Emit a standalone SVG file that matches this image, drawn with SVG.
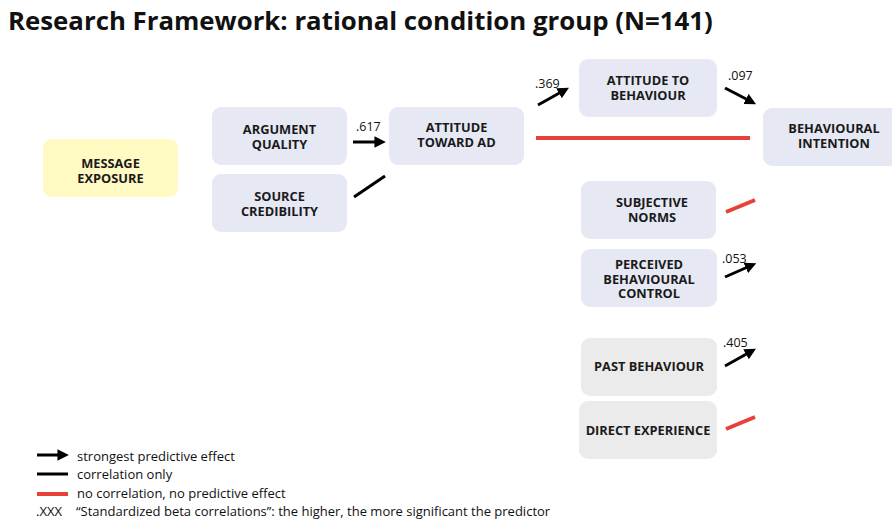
<svg xmlns="http://www.w3.org/2000/svg" width="892" height="520" viewBox="0 0 892 520">
<defs>
<style>
.title{font-family:"Open Sans","Noto Sans",sans-serif;font-weight:700;font-size:25.8px;fill:#111}
.nb{fill:#e6e9f4}
.ny{fill:#fff9c2}
.ng{fill:#ebebeb}
.lbl{font-family:"Open Sans","Noto Sans",sans-serif;font-weight:700;font-size:12.8px;fill:#1a1a1a;text-anchor:middle}
.num{font-family:"Open Sans","Noto Sans",sans-serif;font-size:12.5px;fill:#111}
.leg{font-family:"Open Sans","Noto Sans",sans-serif;font-size:13px;fill:#111}
.blk{stroke:#000;stroke-width:3;fill:none}
.arr{stroke:#000;stroke-width:3;fill:none;marker-end:url(#ah)}
.red{stroke:#e8413a;stroke-width:4;fill:none}
</style>
<marker id="ah" viewBox="0 0 10 10" refX="4" refY="5" markerWidth="3.8" markerHeight="3.8" orient="auto" markerUnits="strokeWidth">
<path d="M0,0 L10,5 L0,10 z" fill="#000"/>
</marker>
</defs>
<rect width="892" height="520" fill="#fff"/>
<text class="title" x="8" y="30">Research Framework: rational condition group (N=141)</text>

<g id="message-exposure"><rect class="ny" x="43" y="139" width="135" height="58" rx="9"/><text class="lbl" x="110.5" y="168">MESSAGE</text><text class="lbl" x="110.5" y="182.5">EXPOSURE</text></g>
<g id="argument-quality"><rect class="nb" x="212" y="107" width="135" height="58" rx="9"/><text class="lbl" x="279.5" y="134">ARGUMENT</text><text class="lbl" x="279.5" y="148.5">QUALITY</text></g>
<g id="source-credibility"><rect class="nb" x="212" y="174" width="135" height="58" rx="9"/><text class="lbl" x="279.5" y="201">SOURCE</text><text class="lbl" x="279.5" y="215.5">CREDIBILITY</text></g>
<g id="attitude-toward-ad"><rect class="nb" x="389" y="107" width="135" height="58" rx="9"/><text class="lbl" x="456.5" y="132">ATTITUDE</text><text class="lbl" x="456.5" y="146.5">TOWARD AD</text></g>
<g id="attitude-to-behaviour"><rect class="nb" x="579" y="59" width="138" height="58" rx="9"/><text class="lbl" x="648" y="85">ATTITUDE TO</text><text class="lbl" x="648" y="99.5">BEHAVIOUR</text></g>
<g id="behavioural-intention"><rect class="nb" x="763" y="108" width="140" height="58" rx="9"/><text class="lbl" x="834" y="133">BEHAVIOURAL</text><text class="lbl" x="834" y="147.5">INTENTION</text></g>
<g id="subjective-norms"><rect class="nb" x="581" y="181" width="135" height="58" rx="9"/><text class="lbl" x="652" y="207">SUBJECTIVE</text><text class="lbl" x="652" y="221.5">NORMS</text></g>
<g id="perceived-behavioural-control"><rect class="nb" x="581" y="249" width="136" height="58" rx="9"/><text class="lbl" x="649" y="269">PERCEIVED</text><text class="lbl" x="649" y="283.5">BEHAVIOURAL</text><text class="lbl" x="649" y="298">CONTROL</text></g>
<g id="past-behaviour"><rect class="ng" x="581" y="338" width="136" height="58" rx="9"/><text class="lbl" x="649" y="371">PAST BEHAVIOUR</text></g>
<g id="direct-experience"><rect class="ng" x="579" y="401" width="138" height="58" rx="9"/><text class="lbl" x="648" y="435">DIRECT EXPERIENCE</text></g>

<g id="connectors">
<line class="arr" x1="353" y1="142" x2="379" y2="142"/>
<line class="blk" x1="354" y1="197" x2="385" y2="176"/>
<line class="arr" x1="538" y1="105" x2="563" y2="91"/>
<line class="arr" x1="725" y1="88" x2="750" y2="101"/>
<line class="red" x1="536" y1="138" x2="750" y2="138"/>
<line class="red" x1="726" y1="212" x2="755" y2="200"/>
<line class="arr" x1="725" y1="277" x2="750" y2="266"/>
<line class="arr" x1="725" y1="366" x2="750" y2="352"/>
<line class="red" x1="726" y1="429" x2="755" y2="417"/>
<text class="num" x="356" y="131">.617</text>
<text class="num" x="535" y="88">.369</text>
<text class="num" x="728" y="80">.097</text>
<text class="num" x="722" y="263">.053</text>
<text class="num" x="723" y="347">.405</text>
</g>

<g id="legend">
<line class="arr" x1="37" y1="455" x2="62" y2="455"/>
<text class="leg" x="77" y="461">strongest predictive effect</text>
<line class="blk" x1="37" y1="474" x2="68" y2="474"/>
<text class="leg" x="77" y="479">correlation only</text>
<line class="red" x1="37" y1="494" x2="68" y2="494"/>
<text class="leg" x="77" y="498">no correlation, no predictive effect</text>
<text class="leg" x="36" y="516">.XXX</text>
<text class="leg" x="76" y="516">“Standardized beta correlations”: the higher, the more significant the predictor</text>
</g>
</svg>
